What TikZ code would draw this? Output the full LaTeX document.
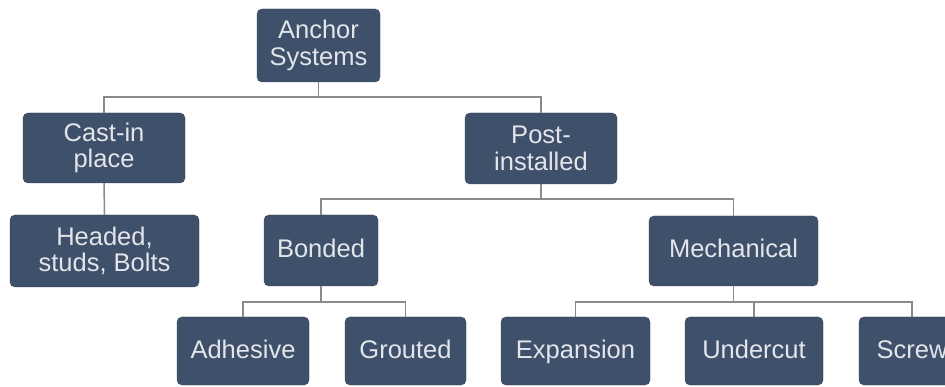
\documentclass[tikz,border=0pt]{standalone}
\usepackage{fontspec}
\setmainfont{Liberation Sans}
\definecolor{boxfill}{HTML}{3F506B}
\definecolor{boxtext}{HTML}{E2E5EA}
\definecolor{linkgray}{HTML}{8A8A8A}
\begin{document}
\begin{tikzpicture}[x=1pt,y=-1pt,
  box/.style={draw=boxfill!85!black, fill=boxfill, rounded corners=5pt, text=boxtext,
    align=center, inner sep=0pt,
    font=\fontsize{25.5}{26.5}\selectfont},
  oneline/.style={text height=18pt, text depth=4pt},
  link/.style={draw=linkgray, line width=1.5pt}]
\useasboundingbox (0,0) rectangle (945,387);
\fill[white] (0,0) rectangle (945,387);
\clip (0,0) rectangle (945,387);
\node[box, minimum width=123pt, minimum height=73pt] (anchor) at (318.5,45.5) {Anchor\\Systems};
\node[box, minimum width=162pt, minimum height=70pt] (cast) at (104,148) {Cast-in\\place};
\node[box, minimum width=152pt, minimum height=71pt] (post) at (541,148.5) {Post-\\installed};
\node[box, minimum width=189pt, minimum height=72pt] (headed) at (104.5,251) {Headed,\\studs, Bolts};
\node[box, oneline, minimum width=114pt, minimum height=71pt] (bonded) at (321,250.5) {Bonded};
\node[box, oneline, minimum width=169pt, minimum height=70pt] (mech) at (733.5,251) {Mechanical};
\node[box, oneline, minimum width=132pt, minimum height=68pt] (adhesive) at (243,351) {Adhesive};
\node[box, oneline, minimum width=121pt, minimum height=68pt] (grouted) at (405.5,351) {Grouted};
\node[box, oneline, minimum width=149pt, minimum height=68pt] (expansion) at (575.5,351) {Expansion};
\node[box, oneline, minimum width=138pt, minimum height=68pt] (undercut) at (754,351) {Undercut};
\node[box, oneline, minimum width=106pt, minimum height=68pt] (screw) at (912,351) {Screw};
% connectors
\draw[link] (anchor.south) -- (anchor.south |- 0,97) -| (cast.north);
\draw[link] (anchor.south |- 0,97) -| (post.north);
\draw[link] (cast.south) -- (headed.north);
\draw[link] (post.south) -- (post.south |- 0,199) -| (bonded.north);
\draw[link] (post.south |- 0,199) -| (mech.north);
\draw[link] (bonded.south) -- (bonded.south |- 0,302) -| (adhesive.north);
\draw[link] (bonded.south |- 0,302) -| (grouted.north);
\draw[link] (mech.south) -- (mech.south |- 0,302) -| (expansion.north);
\draw[link] (mech.south |- 0,302) -| (undercut.north);
\draw[link] (mech.south |- 0,302) -| (screw.north);
\end{tikzpicture}
\end{document}
